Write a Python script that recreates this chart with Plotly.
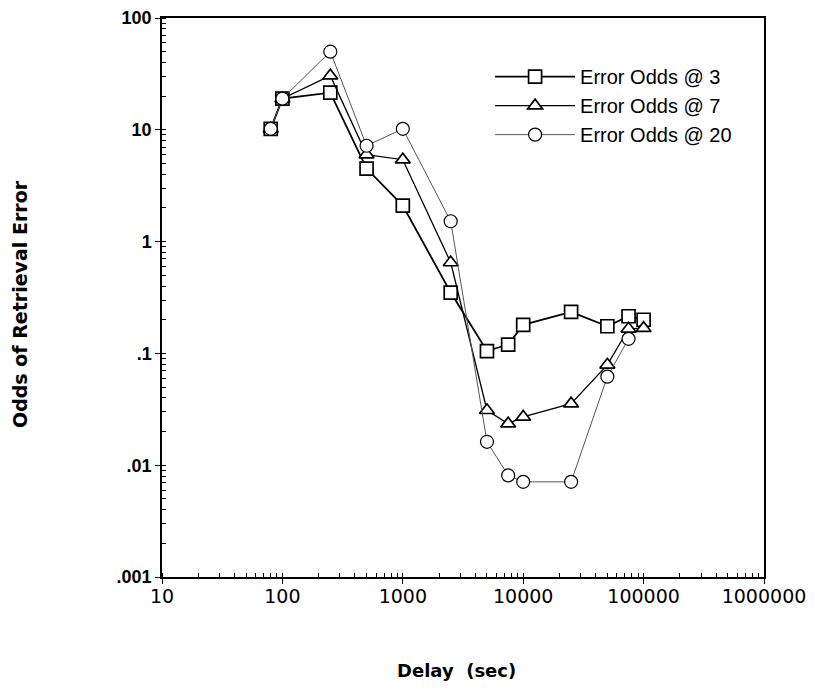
import plotly.graph_objects as go

# Delay (sec)
delay = [80, 100, 250, 500, 1000, 2500, 5000, 7500, 10000, 25000, 50000, 75000, 100000]

odds_3 = [10.2, 19, 21.5, 4.5, 2.1, 0.35, 0.105, 0.12, 0.18, 0.235, 0.175, 0.215, 0.2]
odds_7 = [10.2, 19, 30.5, 6.0, 5.4, 0.65, 0.031, 0.0235, 0.027, 0.0355, 0.079, 0.166, 0.168]
odds_20 = [10.2, 19, 50, 7.2, 10.2, 1.52, 0.0162, 0.0081, 0.0071, 0.0071, 0.062, 0.135]

y_tickvals = [0.001, 0.01, 0.1, 1, 10, 100]
y_ticktext = [".001", ".01", ".1", "1", "10", "100"]
x_tickvals = [10, 100, 1000, 10000, 100000, 1000000]
x_ticktext = ["10", "100", "1000", "10000", "100000", "1000000"]

SANS = "Liberation Sans, Arial, Helvetica, sans-serif"
WIDE = "DejaVu Sans, Verdana, sans-serif"

fig = go.Figure()

fig.add_trace(go.Scatter(
    x=delay, y=odds_3, name="Error Odds @ 3", mode="lines+markers", legendgroup="a",
    line=dict(color="black", width=1.8),
    marker=dict(symbol="square", size=13, color="white", line=dict(color="black", width=1.7)),
))
fig.add_trace(go.Scatter(
    x=delay, y=odds_7, name="Error Odds @ 7", mode="lines+markers", legendgroup="b",
    line=dict(color="black", width=1.3),
    marker=dict(symbol="triangle-up", size=13, color="white", line=dict(color="black", width=1.7)),
))
fig.add_trace(go.Scatter(
    x=delay[:len(odds_20)], y=odds_20, name="Error Odds @ 20", mode="lines+markers", legendgroup="c",
    line=dict(color="#555555", width=1),
    marker=dict(symbol="circle", size=13, color="white", line=dict(color="black", width=1.2)),
))

axis_common = dict(
    type="log",
    automargin=False,
    showgrid=False,
    zeroline=False,
    showline=True,
    linecolor="black",
    linewidth=1.5,
    mirror=True,
    ticks="outside",
    ticklen=5,
    tickcolor="black",
    ticklabeloverflow="allow",
    minor=dict(ticks="inside", ticklen=4, tickcolor="black", dtick="D1", showgrid=False),
)

fig.update_xaxes(range=[1, 6], tickvals=x_tickvals, ticktext=x_ticktext,
                 tickfont=dict(family=WIDE, size=19, color="black"),
                 ticklabelstandoff=-4, **axis_common)
fig.update_yaxes(range=[-3, 2], tickvals=y_tickvals, ticktext=y_ticktext,
                 tickfont=dict(family=SANS, size=18, color="black", weight="bold"),
                 **axis_common)

# the page adds an 8px body margin, so the figure is sized to fit inside it
fig.update_layout(
    width=799,
    height=676,
    margin=dict(l=154, r=43, t=10, b=107),
    plot_bgcolor="white",
    paper_bgcolor="white",
    font=dict(family=SANS, color="black"),
    legend=dict(
        x=0.545, y=0.93, xanchor="left", yanchor="top",
        bgcolor="rgba(0,0,0,0)",
        font=dict(family=SANS, size=20, color="black"),
        itemwidth=80,
        tracegroupgap=0,
    ),
    annotations=[
        dict(text="<b>Odds of Retrieval Error</b>", xref="paper", yref="paper",
             x=(20 - 162) / 602, y=(577 - 304) / 559, xanchor="center", yanchor="middle",
             textangle=-90, showarrow=False,
             font=dict(family=WIDE, size=19, color="black")),
        dict(text="<b>Delay\u00a0 (sec)</b>", xref="paper", yref="paper",
             x=(456 - 162) / 602, y=(577 - 670) / 559, xanchor="center", yanchor="middle",
             showarrow=False,
             font=dict(family=WIDE, size=18, color="black")),
    ],
)

fig.write_html("out.html")
